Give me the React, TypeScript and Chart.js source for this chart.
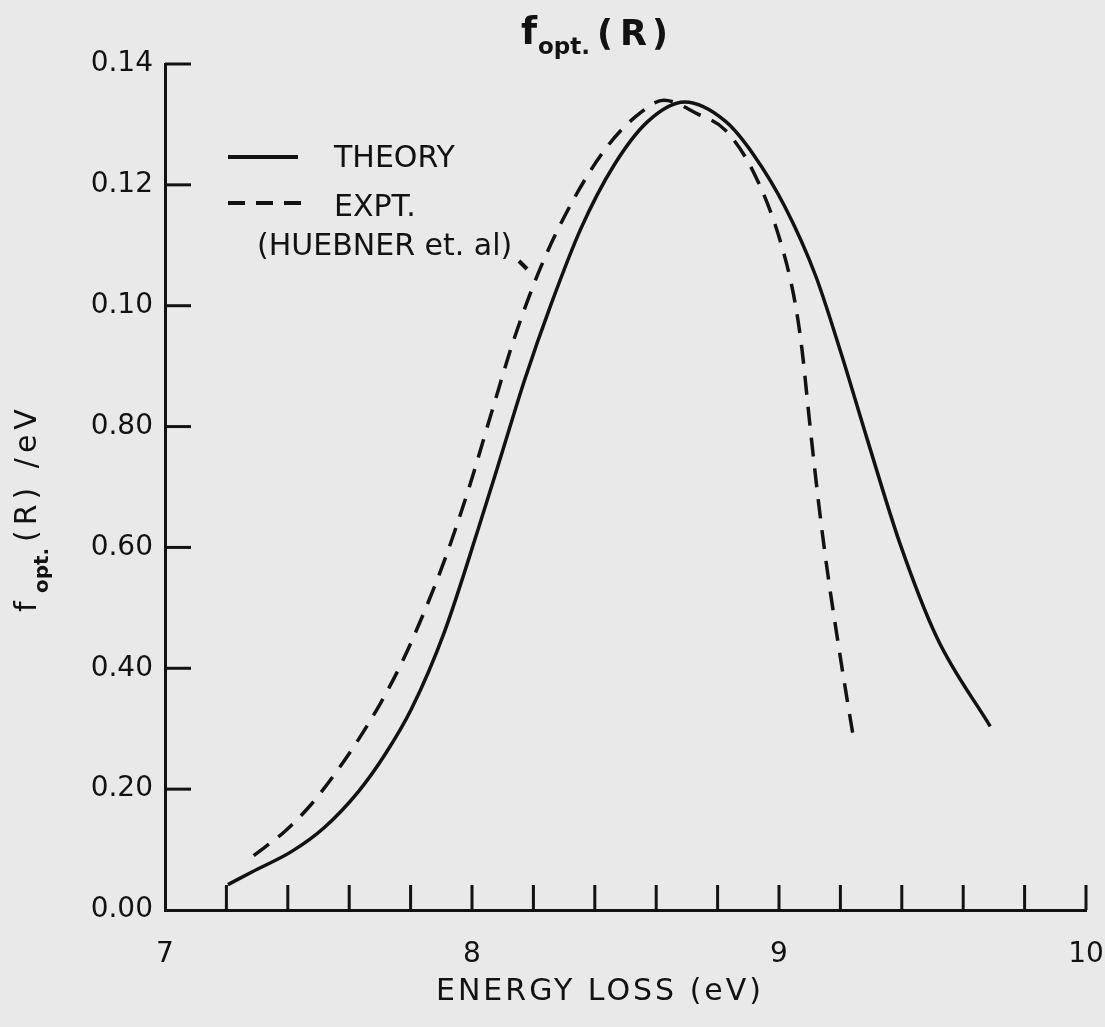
import React, { useEffect, useRef } from 'react';
import { Chart, registerables } from 'chart.js';

Chart.register(...registerables);

// Theory curve (solid)
const theoryX = [7.205, 7.283, 7.413, 7.52, 7.63, 7.715, 7.803, 7.91, 8.02, 8.095, 8.17, 8.258, 8.355, 8.462, 8.573, 8.693, 8.826, 8.917, 9.018, 9.119, 9.2, 9.288, 9.395, 9.515, 9.688];
const theoryY = [0.0042, 0.0063, 0.0097, 0.0137, 0.0196, 0.0256, 0.0333, 0.046, 0.063, 0.0752, 0.0875, 0.1003, 0.1128, 0.1232, 0.1305, 0.1337, 0.1305, 0.125, 0.1165, 0.105, 0.0925, 0.0778, 0.0605, 0.045, 0.0304];

// Experiment curve (dashed, Huebner et al.)
const exptX = [7.289, 7.39, 7.468, 7.543, 7.63, 7.705, 7.77, 7.835, 7.91, 7.988, 8.063, 8.137, 8.225, 8.332, 8.443, 8.55, 8.625, 8.736, 8.824, 8.915, 9.003, 9.052, 9.075, 9.099, 9.128, 9.157, 9.191, 9.222, 9.244];
const exptY = [0.009, 0.013, 0.017, 0.0218, 0.0282, 0.0345, 0.0408, 0.0482, 0.0578, 0.0695, 0.0822, 0.0945, 0.1065, 0.1177, 0.1265, 0.132, 0.134, 0.1317, 0.1291, 0.1223, 0.1109, 0.1006, 0.0927, 0.0811, 0.0678, 0.0563, 0.0447, 0.0348, 0.0281];

// Tick labels as printed in the figure
const yTickLabels = ['0.00', '0.20', '0.40', '0.60', '0.80', '0.10', '0.12', '0.14'];
const xMajorLabels = ['7', '8', '9', '10'];

const INK = '#121212';
const BG = '#e9e9e9';
const FONT = '"DejaVu Sans", sans-serif';

const bgPlugin = {
  id: 'bg',
  beforeDraw(chart: any) {
    const ctx = chart.ctx;
    ctx.save();
    ctx.fillStyle = BG;
    ctx.fillRect(0, 0, chart.width, chart.height);
    ctx.restore();
  },
};

const decorPlugin = {
  id: 'decor',
  afterDraw(chart: any) {
    const { ctx, chartArea } = chart;
    const xs = chart.scales.x;
    const ys = chart.scales.y;
    ctx.save();
    ctx.strokeStyle = INK;
    ctx.fillStyle = INK;
    ctx.lineWidth = 3;
    ctx.lineCap = 'butt';
    // inward ticks
    xs.ticks.forEach((t: any) => {
      if (t.value < 7.001) return;
      const px = xs.getPixelForValue(t.value);
      ctx.beginPath();
      ctx.moveTo(px, chartArea.bottom);
      ctx.lineTo(px, chartArea.bottom - 25);
      ctx.stroke();
    });
    ys.ticks.forEach((t: any) => {
      if (t.value < 0.001) return;
      const py = ys.getPixelForValue(t.value);
      ctx.beginPath();
      ctx.moveTo(chartArea.left, py);
      ctx.lineTo(chartArea.left + 26, py);
      ctx.stroke();
    });

    // title
    ctx.textBaseline = 'alphabetic';
    ctx.textAlign = 'left';
    ctx.font = `bold 37px ${FONT}`;
    ctx.fillText('f', 521, 44);
    ctx.font = `bold 23px ${FONT}`;
    ctx.fillText('opt.', 538, 54);
    ctx.font = `bold 35px ${FONT}`;
    ctx.fillText('(', 597, 45);
    ctx.fillText('R', 620, 45);
    ctx.fillText(')', 652, 45);

    // y title (rotated, reads bottom to top)
    ctx.save();
    ctx.translate(36, 0);
    ctx.rotate(-Math.PI / 2);
    ctx.font = `30px ${FONT}`;
    ctx.fillText('f', -612, 0);
    ctx.font = `bold 20px ${FONT}`;
    ctx.fillText('opt.', -593, 12);
    ctx.font = `30px ${FONT}`;
    (ctx as any).letterSpacing = '5px';
    ctx.fillText('(R) /eV', -542, 0);
    (ctx as any).letterSpacing = '0px';
    ctx.restore();

    // x title
    ctx.font = `30px ${FONT}`;
    (ctx as any).letterSpacing = '3px';
    ctx.textAlign = 'center';
    ctx.textBaseline = 'middle';
    ctx.fillText('ENERGY LOSS (eV)', 600, 992);
    (ctx as any).letterSpacing = '0px';

    // legend
    ctx.textAlign = 'left';
    ctx.lineWidth = 4;
    ctx.beginPath();
    ctx.moveTo(228, 157);
    ctx.lineTo(298, 157);
    ctx.stroke();
    ctx.setLineDash([17, 11]);
    ctx.beginPath();
    ctx.moveTo(228, 203);
    ctx.lineTo(303, 203);
    ctx.stroke();
    ctx.setLineDash([]);
    ctx.font = `30px ${FONT}`;
    ctx.fillText('THEORY', 334, 159);
    ctx.fillText('EXPT.', 334, 208);
    ctx.fillText('(HUEBNER et. al)', 257, 247);
    // leader
    ctx.beginPath();
    ctx.moveTo(519, 261);
    ctx.lineTo(527, 269);
    ctx.stroke();
    ctx.restore();
  },
};

export default function App() {
  const ref = useRef<HTMLCanvasElement>(null);
  useEffect(() => {
    document.body.style.margin = '0';
    document.body.style.background = BG;
    const canvas = ref.current!;
    const chart = new Chart(canvas, {
      type: 'line',
      data: {
        datasets: [
          {
            label: 'THEORY',
            data: theoryX.map((x, i) => ({ x, y: theoryY[i] })),
            borderColor: INK,
            borderWidth: 3.5,
            pointRadius: 0,
            cubicInterpolationMode: 'monotone',
            fill: false,
          },
          {
            label: 'EXPT.',
            data: exptX.map((x, i) => ({ x, y: exptY[i] })),
            borderColor: INK,
            borderWidth: 3.5,
            borderDash: [19, 12],
            pointRadius: 0,
            cubicInterpolationMode: 'monotone',
            fill: false,
          },
        ],
      },
      options: {
        responsive: false,
        animation: false,
        layout: { padding: { top: 64, right: 19, bottom: 0, left: 0 } },
        plugins: {
          legend: { display: false },
          title: { display: false },
          tooltip: { enabled: false },
        },
        scales: {
          x: {
            type: 'linear',
            min: 7,
            max: 10,
            afterFit: (s: any) => {
              s.height = 117;
              s.paddingLeft = 0;
              s.paddingRight = 0;
            },
            ticks: {
              stepSize: 0.2,
              autoSkip: false,
              maxRotation: 0,
              padding: 28,
              color: INK,
              font: { family: FONT, size: 28 },
              callback: (v: any) => {
                const n = Math.round(Number(v));
                if (Math.abs(Number(v) - n) < 1e-6) return xMajorLabels[n - 7] ?? '';
                return '';
              },
            },
            grid: { display: true, drawOnChartArea: false, drawTicks: false, color: 'rgba(0,0,0,0)' },
            border: { display: true, color: INK, width: 3 },
          },
          y: {
            type: 'linear',
            min: 0,
            max: 0.14,
            afterFit: (s: any) => {
              s.width = 165;
              s.paddingTop = 0;
              s.paddingBottom = 0;
            },
            ticks: {
              stepSize: 0.02,
              autoSkip: false,
              padding: 12,
              color: INK,
              font: { family: FONT, size: 28 },
              callback: (v: any) => yTickLabels[Math.round(Number(v) / 0.02)] ?? '',
            },
            grid: { display: true, drawOnChartArea: false, drawTicks: false, color: 'rgba(0,0,0,0)' },
            border: { display: true, color: INK, width: 3 },
          },
        },
      },
      plugins: [bgPlugin, decorPlugin],
    } as any);
    return () => chart.destroy();
  }, []);
  return <canvas ref={ref} width={1105} height={1027} style={{ display: 'block' }} />;
}
